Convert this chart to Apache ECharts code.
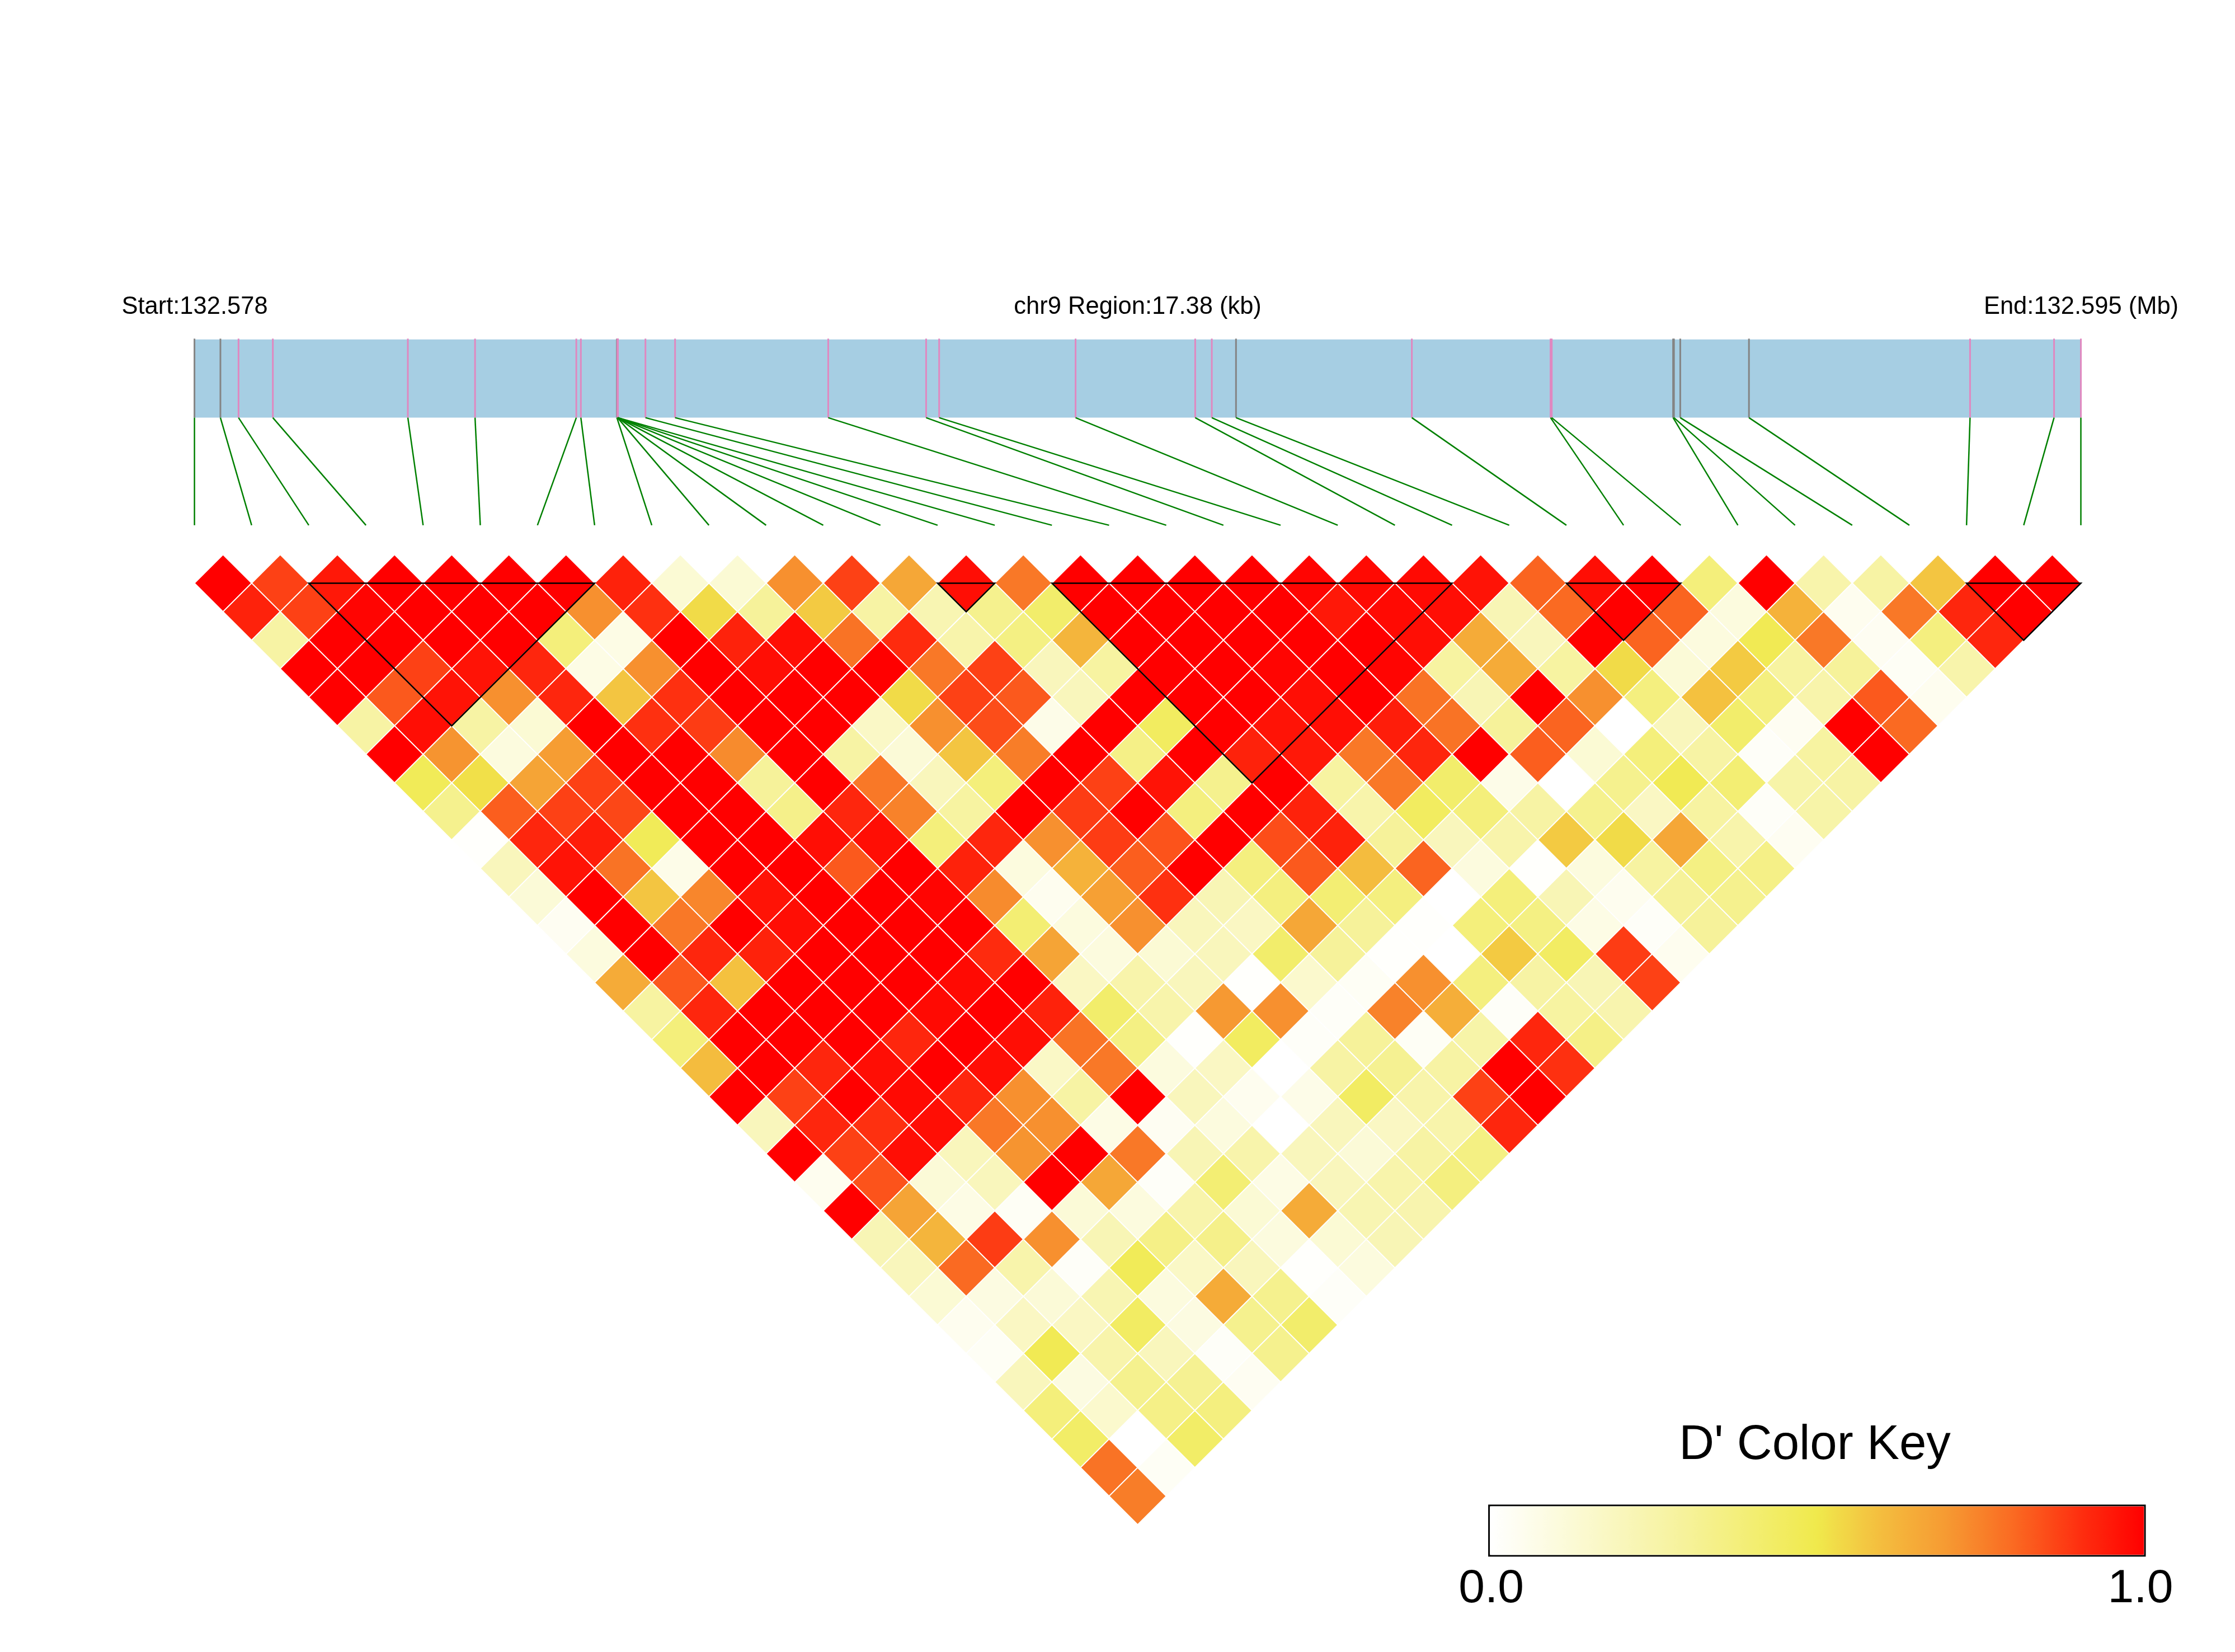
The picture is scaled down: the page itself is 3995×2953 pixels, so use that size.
<!DOCTYPE html>
<html>
<head>
<meta charset="utf-8">
<style>html,body{margin:0;padding:0;background:#fff}#chart{width:3995px;height:2953px}</style>
<script src="https://cdn.jsdelivr.net/npm/echarts@6/dist/echarts.min.js"></script>
</head>
<body>
<div id="chart"></div>
<script>
// D' values: rowK holds the pairs of SNPs that are K apart, from the left
const row1 = [1,.87,.95,1,1,1,1,.93,.13,.13,.72,.87,.66,.97,.77,1,1,1,1,.99,.98,.98,.96,.81,.97,1,.38,1,.25,.27,.58,1,1];
const row2 = [.93,.87,.99,1,1,1,.72,.9,.53,.3,.57,.27,.23,.33,.42,1,1,1,1,.95,.98,.97,.22,.8,1,.81,.1,.63,.05,.77,.92,1];
const row3 = [.27,1,1,1,1,.38,.08,1,.93,.97,.78,.91,.25,.36,.62,1,1,1,1,1,.97,.65,.2,1,.81,.1,.48,.77,.04,.37,.92];
const row4 = [1,1,.87,.96,.92,.08,.72,1,.97,1,1,.77,.87,.2,.28,1,1,.99,1,.99,.28,.65,.28,.53,.12,.57,.28,.3,.03,.25];
const row5 = [1,.83,.96,.72,.92,.58,.9,1,1,1,.53,.87,.83,.2,1,1,1,.97,1,.78,.22,1,.72,.37,.59,.37,.25,.83,.05];
const row6 = [.27,.97,.27,.13,1,.9,.88,1,1,.17,.72,.85,.07,1,.45,1,.96,.97,.94,.78,.3,.81,0,.2,.42,.04,1,.8];
const row7 = [1,.71,.1,.69,1,1,.73,1,.27,.12,.58,.76,1,.35,1,.93,.95,.77,.92,1,.82,.13,.38,.27,.02,.28,1];
const row8 = [.47,.52,.67,.87,1,1,.3,1,.77,.2,.38,1,.87,.96,.33,1,.28,.77,.42,.07,0,.33,.48,.4,.26,.27];
const row9 = [.33,.82,.87,.86,1,1,.34,.92,.75,.28,1,.88,1,.37,1,.93,.25,.45,.38,.27,.33,.18,.28,.02,.26];
const row10 = [.01,.92,.94,.47,1,1,.97,.97,.38,.92,.72,.88,.84,1,.85,.93,.3,.2,.25,.57,.53,.66,.25,.04];
const row11 = [.2,.96,.78,.07,1,1,.83,1,.93,.1,.63,.82,1,.37,.83,.6,.81,.1,.01,.1,.28,.36,.35];
const row12 = [.12,1,.58,.74,.96,1,1,.99,.73,.05,.68,.9,.22,.37,.4,.37,0,.38,.22,.05,.3,.33];
const row13 = [.04,1,.77,1,.97,1,1,1,.4,.1,.72,.2,.18,.66,.3,.01,.38,.36,.08,.02,.3];
const row14 = [.1,1,.92,.93,1,1,1,.91,.67,.1,.13,.2,.42,.3,.01,0,.57,.44,.88,.05];
const row15 = [.65,.83,.59,1,1,1,.98,1,.18,.25,.2,.01,.15,.03,.72,.37,.27,.22,.87];
const row16 = [.28,.92,1,1,1,.98,1,.93,.42,.25,.7,.72,.02,.75,.64,.02,.28,.24];
const row17 = [.38,1,1,1,.92,1,.97,.78,.36,.01,.45,.02,.3,.03,.26,.92,.35];
const row18 = [.6,1,.92,.97,1,.97,.17,.77,.1,.18,0,.27,.32,.27,1,.9];
const row19 = [1,.87,1,.98,.92,.72,.27,1,.2,.05,.07,.44,.25,.87,1];
const row20 = [.2,.92,.9,.97,.77,.72,.08,.04,.1,0,.2,.18,.25,.92];
const row21 = [1,.87,.97,.2,.71,1,.77,.22,.25,.2,.12,.27,.36];
const row22 = [.05,.84,.12,.2,1,.66,.02,.4,.08,.2,.25,.37];
const row23 = [1,.67,.08,.03,.12,.1,.25,.13,.65,.23,.24];
const row24 = [.22,.62,.88,.72,.22,.35,.34,.1,.13,.22];
const row25 = [.2,.8,.25,.02,.47,.17,.2,.01,.1];
const row26 = [.13,.09,.12,.23,.1,.65,.33,.02];
const row27 = [.05,.18,.18,.44,.09,.33,.42];
const row28 = [.03,.48,.25,.2,.02,.33];
const row29 = [.2,.09,.33,.32,.04];
const row30 = [.38,.15,.35,.37];
const row31 = [.43,0,.43];
const row32 = [.78,.03];
const row33 = [.76];
const rows = [row1,row2,row3,row4,row5,row6,row7,row8,row9,row10,row11,row12,row13,row14,row15,row16,row17,row18,row19,row20,row21,row22,row23,row24,row25,row26,row27,row28,row29,row30,row31,row32,row33];

// SNP positions along the region (kb from its start) and the kind of each tick
const snpKb = [0,.239,.406,.722,1.966,2.585,3.518,3.56,3.892,3.898,3.899,3.9,3.9,3.9,3.901,4.155,4.428,5.839,6.741,6.861,8.118,9.22,9.373,9.596,11.216,12.494,12.505,13.623,13.631,13.689,14.322,16.359,17.133,17.38];
const snpGray = [0,1,8,23,27,28,29,30];
const regionKb = 17.38;

// LD blocks as first and last SNP index
const blockFirst = [2,13,15,24,31];
const blockLast = [7,14,22,26,33];

// Text and colour key
const startLabel = 'Start:132.578';
const regionLabel = 'chr9 Region:17.38 (kb)';
const endLabel = 'End:132.595 (Mb)';
const keyTitle = "D' Color Key";
const keyColors = ['#FFFFFF','#FCFBDE','#F9F6BC','#F6F29A','#F3EE73','#F0E94C','#F4BC3E','#F69932','#FA6A22','#FE3010','#FF0000'];

// Layout, in depth units of the triangle
const trackTop = -8.54, trackBottom = -5.8, linkEnd = -2.03;
const font = '"Liberation Sans", Arial, sans-serif';
const nSnp = snpKb.length;

const cellData = [];
rows.forEach((r, k) => r.forEach((v, i) => cellData.push([i + (k + 1) / 2, k, v])));
const snpX = kb => kb / regionKb * (nSnp - 1);
const tickData = snpKb.map((kb, i) => [snpX(kb), snpGray.includes(i) ? 1 : 0]).sort((a, b) => b[1] - a[1]);
const linkData = snpKb.map((kb, i) => [snpX(kb), i]);
const blockData = blockFirst.map((a, i) => [a, blockLast[i]]);

const chart = echarts.init(document.getElementById('chart'), null, {renderer: 'canvas'});
const text = (t, x, y, size) => ({
  text: t, left: x, top: y, textAlign: 'center', textVerticalAlign: 'middle', padding: 0,
  textStyle: {fontSize: size, fontWeight: 'normal', fontFamily: font, color: '#000'}
});
const keyLabelStyle = {fontSize: 84, fontFamily: font, color: '#000'};
chart.setOption({
  animation: false,
  backgroundColor: '#fff',
  title: [
    text(startLabel, 348, 549, 43.5),
    text(regionLabel, 2033.6, 549, 43.5),
    text(endLabel, 3720, 549, 43.5),
    text(keyTitle, 3244, 2584, 87)
  ],
  grid: [
    {left: 347.6, top: 532.4, width: 3371.9, height: 2244, show: false},
    {left: 2661.6, top: 2691, width: 1172.4, height: 90, show: true, borderColor: '#000', borderWidth: 3, backgroundColor: 'transparent'}
  ],
  xAxis: [
    {gridIndex: 0, type: 'value', min: 0, max: nSnp - 1, show: false},
    {gridIndex: 1, type: 'value', min: 0, max: 1, interval: 1, axisLine: {show: false}, axisTick: {show: false}, splitLine: {show: false},
     axisLabel: {show: true, margin: 18, formatter: v => (v === 0 ? '{lo|' : '{hi|') + v.toFixed(1) + '}',
       rich: {lo: {...keyLabelStyle, padding: [0, 0, 0, 8]}, hi: {...keyLabelStyle, padding: [0, 16, 0, 0]}}}}
  ],
  yAxis: [
    {gridIndex: 0, type: 'value', min: -10, max: 34, inverse: true, show: false},
    {gridIndex: 1, type: 'value', min: 0, max: 1, show: false}
  ],
  visualMap: {
    type: 'continuous', seriesIndex: 0, dimension: 2, min: 0, max: 1, orient: 'horizontal',
    left: 2663, top: 2692.5, itemWidth: 87, itemHeight: 1169.5, padding: 0, calculable: false, realtime: false, hoverLink: false,
    showLabel: false, text: ['', ''], inRange: {color: keyColors}, z: 1
  },
  series: [
    {
      type: 'custom', xAxisIndex: 0, yAxisIndex: 0, coordinateSystem: 'cartesian2d', clip: false, z: 2,
      data: cellData, encode: {x: 0, y: 1},
      renderItem(p, api) {
        const x = api.value(0), d = api.value(1);
        return {type: 'polygon', shape: {points: [api.coord([x - .5, d]), api.coord([x, d - 1]), api.coord([x + .5, d]), api.coord([x, d + 1])]},
          style: {fill: api.visual('color'), stroke: '#fff', lineWidth: 2}};
      }
    },
    {
      type: 'custom', xAxisIndex: 0, yAxisIndex: 0, clip: false, z: 3,
      data: blockData, encode: {x: 0},
      renderItem(p, api) {
        const a = api.value(0), b = api.value(1);
        return {type: 'polygon', shape: {points: [api.coord([a, 0]), api.coord([b, 0]), api.coord([(a + b) / 2, b - a])]},
          style: {fill: 'none', stroke: '#000', lineWidth: 2.5}};
      }
    },
    {
      type: 'custom', xAxisIndex: 0, yAxisIndex: 0, clip: false, z: 1,
      data: [[0, nSnp - 1]], encode: {x: [0, 1]},
      renderItem(p, api) {
        const a = api.coord([api.value(0), trackTop]), b = api.coord([api.value(1), trackBottom]);
        return {type: 'rect', shape: {x: a[0], y: a[1], width: b[0] - a[0], height: b[1] - a[1]}, style: {fill: '#A6CEE3'}};
      }
    },
    {
      type: 'custom', xAxisIndex: 0, yAxisIndex: 0, clip: false, z: 2,
      data: tickData, encode: {x: 0},
      renderItem(p, api) {
        const x = api.value(0), a = api.coord([x, trackTop - .03]), b = api.coord([x, trackBottom]);
        return {type: 'line', shape: {x1: a[0], y1: a[1], x2: b[0], y2: b[1]},
          style: {stroke: api.value(1) ? '#848484' : '#E088C0', lineWidth: 3}};
      }
    },
    {
      type: 'custom', xAxisIndex: 0, yAxisIndex: 0, clip: false, z: 2,
      data: linkData, encode: {x: 0},
      renderItem(p, api) {
        const a = api.coord([api.value(0), trackBottom]), b = api.coord([api.value(1), linkEnd]);
        return {type: 'line', shape: {x1: a[0], y1: a[1], x2: b[0], y2: b[1]}, style: {stroke: '#008000', lineWidth: 2.5}};
      }
    },
    {
      type: 'custom', xAxisIndex: 1, yAxisIndex: 1, z: 0, data: [],
      renderItem() { return null; }
    }
  ]
});
</script>
</body>
</html>
